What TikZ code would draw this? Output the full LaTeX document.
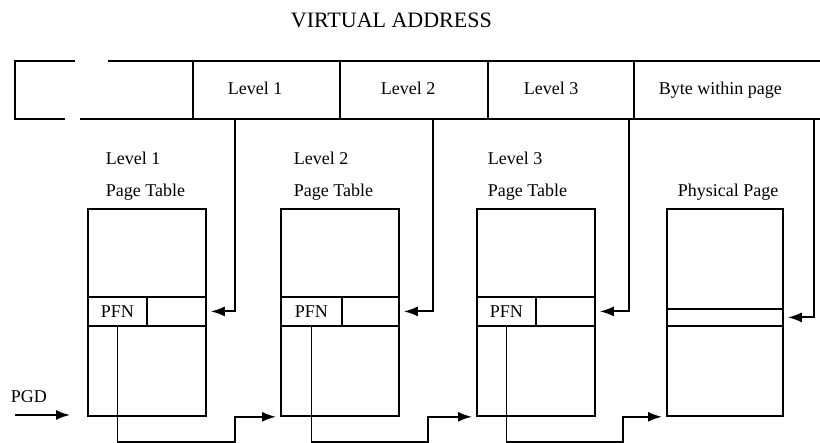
\documentclass[tikz,border=0pt]{standalone}
\usepackage{fontspec}
\setmainfont{Liberation Serif}
\usetikzlibrary{arrows.meta}
\tikzset{
  lbl/.style={font=\fontsize{18}{20}\selectfont, inner sep=0pt},
  tbl/.style={draw, minimum width=118pt, minimum height=207pt, anchor=north west, inner sep=0pt},
  row/.style={draw, minimum width=118pt, minimum height=29pt, anchor=north west, inner sep=0pt},
  pfn/.style={row, minimum width=59pt, font=\fontsize{18}{20}\selectfont},
  arr/.style={-{Latex[length=14pt,width=10pt]}, shorten >=4pt},
}
\begin{document}
\begin{tikzpicture}[x=1pt,y=-1pt,line width=1.8pt]
\useasboundingbox (0,0) rectangle (820,443);
% virtual address bar
\node[lbl, font=\fontsize{22}{24}\selectfont, anchor=base west] (title) at (290,28) {VIRTUAL ADDRESS};
\draw (75,61) -| (15,119) -- (65,119);
\draw (108,61) -- (820,61);
\draw (80,119) -- (820,119);
\foreach \x in {193,340,488,634} \draw (\x,61) -- (\x,119);
\node[lbl, anchor=base west] (f1) at (227,95) {Level 1};
\node[lbl, anchor=base west] (f2) at (380,95) {Level 2};
\node[lbl, anchor=base west] (f3) at (523,95) {Level 3};
\node[lbl, anchor=base west] (fb) at (658,95) {Byte within page};
\coordinate (tap1) at (235,119);
\coordinate (tap2) at (433,119);
\coordinate (tap3) at (629,119);
\coordinate (tapb) at (814,119);
% tables
\node[lbl, anchor=base west] (h1) at (105,165) {Level 1};
\node[lbl, anchor=base west] (n1) at (105,197) {Page Table};
\node[lbl, anchor=base west] (h2) at (293,165) {Level 2};
\node[lbl, anchor=base west] (n2) at (293,197) {Page Table};
\node[lbl, anchor=base west] (h3) at (487,165) {Level 3};
\node[lbl, anchor=base west] (n3) at (487,197) {Page Table};
\node[lbl, anchor=base west] (np) at (677,197) {Physical Page};
\node[tbl] (t1) at (87,208) {};
\node[tbl] (t2) at (280,208) {};
\node[tbl] (t3) at (476,208) {};
\node[tbl, minimum width=116pt] (pp) at (666,208) {};
\node[row] (r1) at (87,296) {};
\node[row] (r2) at (280,296) {};
\node[row] (r3) at (476,296) {};
\node[row, minimum width=116pt, minimum height=17pt] (rp) at (666,308) {};
\node[pfn] (p1) at (87,296) {PFN};
\node[pfn, minimum width=61pt] (p2) at (280,296) {PFN};
\node[pfn] (p3) at (476,296) {PFN};
% connectors
\draw[arr] (tap1) |- (r1.east);
\draw[arr] (tap2) |- (r2.east);
\draw[arr] (tap3) |- (r3.east);
\draw[arr] (tapb) |- (rp.east);
\coordinate (low) at (0,442);
\draw[arr] (p1.south) |- (tap1 |- low) |- (t2.south west);
\draw[arr] (p2.south) |- (428,442) |- (t3.south west);
\draw[arr] (p3.south) |- (623,442) |- (pp.south west);
\node[lbl, anchor=base west] (pgdl) at (10,403) {PGD};
\coordinate (pgd) at (15,415);
\draw[arr, shorten >=17pt] (pgd) -- (pgd -| t1.south west);
\end{tikzpicture}
\end{document}
